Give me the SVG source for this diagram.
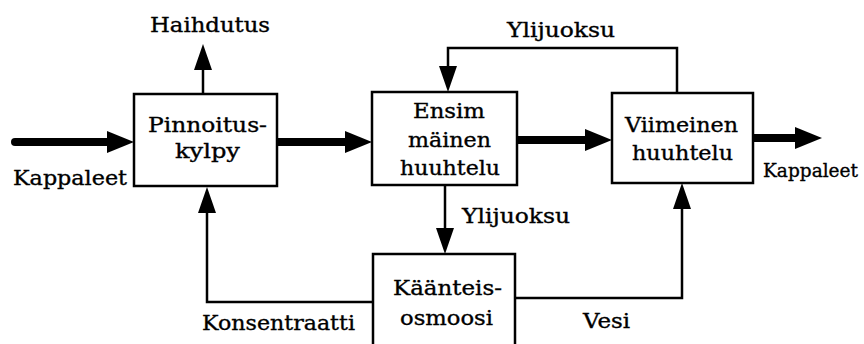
<svg xmlns="http://www.w3.org/2000/svg" width="864" height="344" viewBox="0 0 864 344">
<style>
.box{fill:#fff;stroke:#000;stroke-width:2.5}
.t{font-family:"DejaVu Serif","Liberation Serif",serif;font-size:20px;fill:#000;stroke:#000;stroke-width:0.35}
.thick{fill:none;stroke:#000;stroke-width:8}
.thin{fill:none;stroke:#000;stroke-width:2.5}
</style>
<defs>
<marker id="ah" markerUnits="userSpaceOnUse" viewBox="0 0 27 22" markerWidth="27" markerHeight="22" refX="1" refY="11" orient="auto"><path d="M0,0 L27,11 L0,22 z" fill="#000"/></marker>
<marker id="at" markerUnits="userSpaceOnUse" viewBox="0 0 26 18" markerWidth="26" markerHeight="18" refX="1" refY="9" orient="auto"><path d="M0,0 L26,9 L0,18 z" fill="#000"/></marker>
</defs>
<rect width="864" height="344" fill="#fff"/>
<g id="connectors">
<line class="thick" x1="15" y1="142" x2="108" y2="142" stroke-linecap="round" marker-end="url(#ah)"/>
<line class="thick" x1="277" y1="142" x2="346" y2="142" marker-end="url(#ah)"/>
<line class="thick" x1="517" y1="140" x2="586" y2="140" marker-end="url(#ah)"/>
<line class="thick" x1="753" y1="138" x2="796" y2="138" marker-end="url(#ah)"/>
<line class="thin" x1="203" y1="94" x2="203" y2="69" marker-end="url(#at)"/>
<polyline class="thin" points="677,93 677,48 448,48 448,67" marker-end="url(#at)"/>
<line class="thin" x1="445" y1="185" x2="445" y2="229" marker-end="url(#at)"/>
<polyline class="thin" points="373,302 207,302 207,212" marker-end="url(#at)"/>
<polyline class="thin" points="515,298 682,298 682,208" marker-end="url(#at)"/>
</g>
<g id="pinnoituskylpy">
<rect class="box" x="134" y="94" width="143" height="92"/>
<text class="t" x="148" y="132" textLength="119" lengthAdjust="spacingAndGlyphs">Pinnoitus-</text>
<text class="t" x="175" y="158" textLength="65" lengthAdjust="spacingAndGlyphs">kylpy</text>
</g>
<g id="ensimmainen">
<rect class="box" x="372" y="92" width="145" height="93"/>
<text class="t" x="413" y="118" textLength="72" lengthAdjust="spacingAndGlyphs">Ensim</text>
<text class="t" x="408" y="147" textLength="83" lengthAdjust="spacingAndGlyphs">mäinen</text>
<text class="t" x="400" y="175" textLength="100" lengthAdjust="spacingAndGlyphs">huuhtelu</text>
</g>
<g id="viimeinen">
<rect class="box" x="612" y="93" width="141" height="90"/>
<text class="t" x="625" y="132" textLength="113" lengthAdjust="spacingAndGlyphs">Viimeinen</text>
<text class="t" x="632" y="160" textLength="101" lengthAdjust="spacingAndGlyphs">huuhtelu</text>
</g>
<g id="kaanteisosmoosi">
<rect class="box" x="373" y="254" width="142" height="100"/>
<text class="t" x="393" y="295" textLength="109" lengthAdjust="spacingAndGlyphs">Käänteis-</text>
<text class="t" x="400" y="325" textLength="93" lengthAdjust="spacingAndGlyphs">osmoosi</text>
</g>
<g id="labels">
<text class="t" x="150" y="32" textLength="120" lengthAdjust="spacingAndGlyphs">Haihdutus</text>
<text class="t" x="13" y="185" textLength="114" lengthAdjust="spacingAndGlyphs">Kappaleet</text>
<text class="t" x="507" y="37" textLength="108" lengthAdjust="spacingAndGlyphs">Ylijuoksu</text>
<text class="t" x="763" y="177" textLength="95" lengthAdjust="spacingAndGlyphs" style="font-size:19px">Kappaleet</text>
<text class="t" x="462" y="223" textLength="108" lengthAdjust="spacingAndGlyphs">Ylijuoksu</text>
<text class="t" x="202" y="330" textLength="153" lengthAdjust="spacingAndGlyphs">Konsentraatti</text>
<text class="t" x="583" y="328" textLength="47" lengthAdjust="spacingAndGlyphs">Vesi</text>
</g>
</svg>
